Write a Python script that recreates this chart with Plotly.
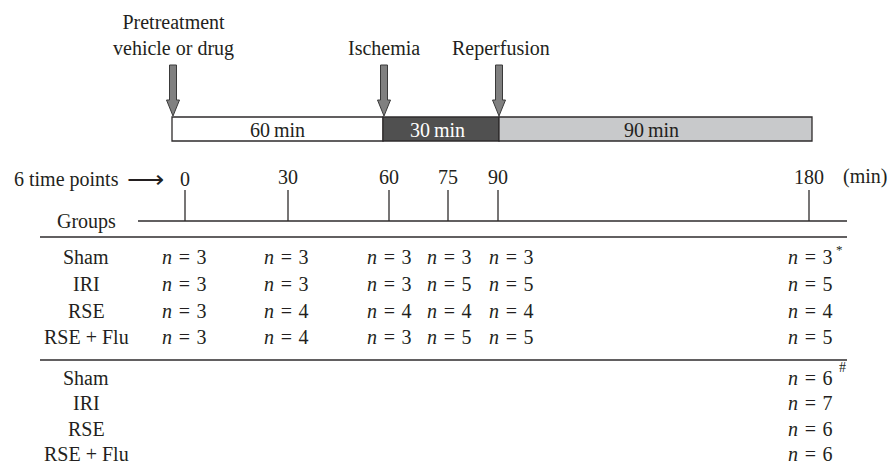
import plotly.graph_objects as go

# ---------------- data ----------------
events = ["Pretreatment<br>vehicle or drug", "Ischemia", "Reperfusion"]
phase_labels = ["60 min", "30 min", "90 min"]
phase_minutes = [60, 30, 90]
time_points = [0, 30, 60, 75, 90, 180]
groups = ["Sham", "IRI", "RSE", "RSE + Flu"]
n_sham = [3, 3, 3, 3, 3, 3]
n_iri = [3, 3, 3, 5, 5, 5]
n_rse = [3, 4, 4, 4, 4, 4]
n_rse_flu = [3, 4, 3, 5, 5, 5]
n_second = [6, 7, 6, 6]
block1 = [n_sham, n_iri, n_rse, n_rse_flu]

# ---------------- layout (pixel schematic) ----------------
W, H = 889, 470
FONT = "Liberation Serif"
FS = 20
TXT = "#231f20"
LINE_C = "#2e2b2c"
BAR_EDGES = [172, 383, 499, 812]
BAR_TOP, BAR_BOT = 117, 141
PHASE_FILL = ["#ffffff", "#505050", "#c8c9cb"]
PHASE_TXT = [TXT, "#ffffff", TXT]
TICK_X = [185, 288, 389, 448, 498, 809]
N_X = [184, 286, 389, 449, 511, 810]
TIME_LABEL_Y = 177
TICK_TOP, AXIS_Y = 190, 221
SEP1_Y, SEP2_Y = 237, 360
ROW1_Y = [257, 284, 311, 337]
ROW2_Y = [378, 403, 429, 454]
GROUP_X = 86
ARROW_TOP = 65

shapes = []
annotations = []

def line(x0, y0, x1, y1, w=1.3, c=LINE_C):
    shapes.append(dict(type="line", xref="x", yref="y", x0=x0, y0=y0, x1=x1, y1=y1,
                       line=dict(color=c, width=w)))

def text(x, y, s, size=FS, color=TXT, xanchor="center", yanchor="middle"):
    annotations.append(dict(x=x, y=y, xref="x", yref="y", text=s, showarrow=False,
                            font=dict(family=FONT, size=size, color=color),
                            xanchor=xanchor, yanchor=yanchor))

def nlabel(v):
    return f"<i>n</i>\u200a = \u200a{v}"

# phase bar
for i, (lab, _m) in enumerate(zip(phase_labels, phase_minutes)):
    x0, x1 = BAR_EDGES[i], BAR_EDGES[i + 1]
    shapes.append(dict(type="rect", xref="x", yref="y", x0=x0, x1=x1, y0=BAR_TOP, y1=BAR_BOT,
                       fillcolor=PHASE_FILL[i], line=dict(color=LINE_C, width=1.3)))
    text((x0 + x1) / 2 - (4 if i == 1 else 0) - (4 if i == 2 else 0), (BAR_TOP + BAR_BOT) / 2 + 1,
         lab.replace(" ", "\u2009"), color=PHASE_TXT[i])

# event arrows + labels
event_x = [173, BAR_EDGES[1] + 1, BAR_EDGES[2]]
event_label_y = [35, 48, 48]
for ex, lab, ly in zip(event_x, events, event_label_y):
    tip = BAR_TOP - 1
    head = tip - 16
    sw, hw = 3.5, 6.5
    path = (f"M {ex-sw},{ARROW_TOP} L {ex+sw},{ARROW_TOP} L {ex+sw},{head} L {ex+hw},{head} "
            f"L {ex},{tip} L {ex-hw},{head} L {ex-sw},{head} Z")
    shapes.append(dict(type="path", xref="x", yref="y", path=path, fillcolor="#808080",
                       line=dict(color="#3a3a3a", width=1)))
    text(ex + (2 if lab == "Reperfusion" else 0), ly, lab)

# time axis
text(12, 179, "6 time points", xanchor="left")
text(145, 179, "\u27f6", size=26)
for tp, tx in zip(time_points, TICK_X):
    text(tx, TIME_LABEL_Y if tp != 0 else 179, str(tp))
    line(tx, TICK_TOP, tx, AXIS_Y)
text(865, 176, "(min)")
text(86, 221, "Groups")
line(138, AXIS_Y, 847, AXIS_Y)
line(40, SEP1_Y, 847, SEP1_Y, w=1.6)
line(40, SEP2_Y, 847, SEP2_Y, w=1.6)

# first block
for gi, (g, vals) in enumerate(zip(groups, block1)):
    y = ROW1_Y[gi]
    text(GROUP_X, y, g)
    for vi, v in enumerate(vals):
        text(N_X[vi], y, nlabel(v))
text(N_X[-1] + 29, ROW1_Y[0] - 8, "*", size=13)

# second block
for gi, (g, v) in enumerate(zip(groups, n_second)):
    y = ROW2_Y[gi]
    text(GROUP_X, y, g)
    text(N_X[-1], y, nlabel(v))
text(N_X[-1] + 32, ROW2_Y[0] - 11, "#", size=14)

fig = go.Figure()
fig.add_trace(go.Scatter(x=[0, W], y=[0, H], mode="markers", marker=dict(opacity=0),
                         hoverinfo="skip", showlegend=False))
fig.update_layout(
    width=W, height=H, margin=dict(l=0, r=0, t=0, b=0),
    paper_bgcolor="white", plot_bgcolor="white",
    xaxis=dict(range=[0, W], visible=False, fixedrange=True),
    yaxis=dict(range=[H, 0], visible=False, fixedrange=True),
    shapes=shapes, annotations=annotations, showlegend=False,
)
fig.write_html("out.html", config={"displayModeBar": False},
               post_script="document.body.style.margin='0';document.body.style.overflow='hidden';")
